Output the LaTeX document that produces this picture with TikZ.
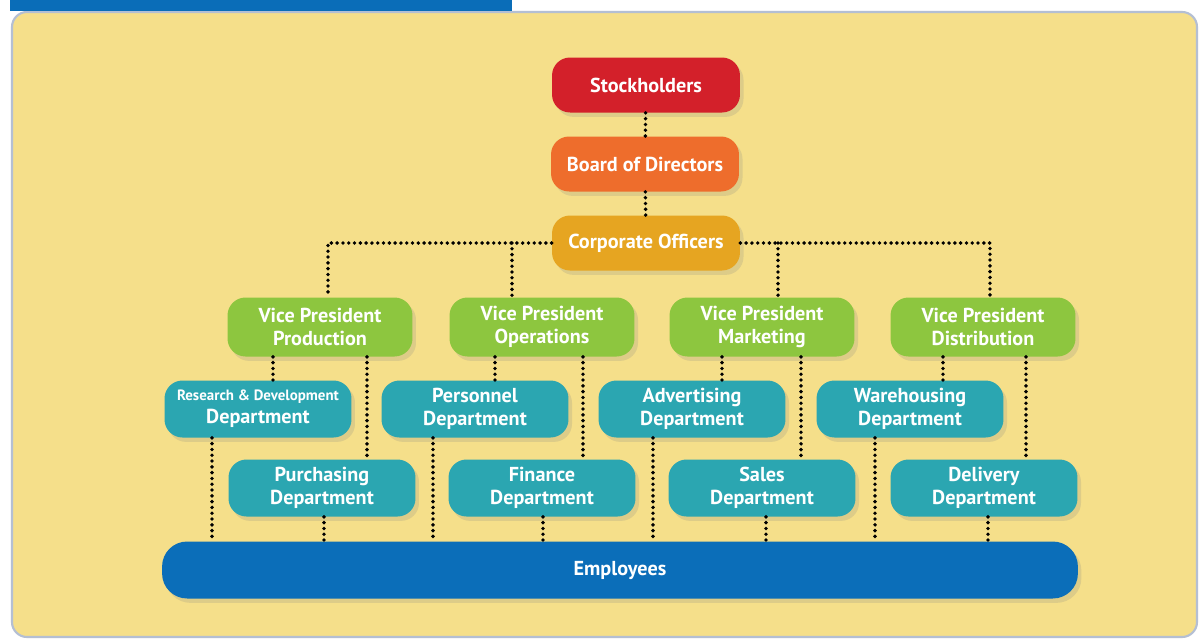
\documentclass[tikz,border=0pt]{standalone}
\usepackage{fontspec}
\setmainfont{PT Sans}
\usepackage{tikz}
\usetikzlibrary{shadows}
\definecolor{panel}{HTML}{F5DF8A}
\definecolor{frame}{HTML}{B4BFD3}
\definecolor{barblue}{HTML}{0A6DB8}
\definecolor{stockred}{HTML}{D3202A}
\definecolor{boardorange}{HTML}{EE6D2C}
\definecolor{officergold}{HTML}{E6A521}
\definecolor{vpgreen}{HTML}{8DC63F}
\definecolor{deptteal}{HTML}{2BA6B1}
\definecolor{staffblue}{HTML}{0B6EB9}

\begin{document}
\begin{tikzpicture}[x=0.02cm,y=-0.02cm,
  box/.style={rounded corners=0.36cm,text=white,align=center,inner sep=0pt,
    font=\bfseries\fontsize{11.5}{13}\selectfont,
    drop shadow={shadow xshift=2pt,shadow yshift=-2.5pt,opacity=0.2}},
  topbox/.style={box,minimum width=3.76cm,minimum height=1.1cm},
  vp/.style={box,fill=vpgreen,minimum width=3.7cm,minimum height=1.18cm},
  dept/.style={box,fill=deptteal,minimum width=3.74cm,minimum height=1.14cm},
  dotline/.style={line width=2.2pt,line cap=round,dash pattern=on 0pt off 3.3pt}]
  % page and panel
  \fill[white] (0,0) rectangle (1204,640);
  \useasboundingbox (0,0) rectangle (1204,640);
  \draw[frame,line width=1.2pt,fill=panel,rounded corners=0.3cm] (12,12) rectangle (1197,637);
  \fill[barblue] (10,0) rectangle (512,11);
  % top of the chart
  \node[topbox,fill=stockred] (stock) at (646,85) {Stockholders};
  \node[topbox,fill=boardorange] (board) at (645,164) {Board of Directors};
  \node[topbox,fill=officergold] (corp) at (646,243) {Corporate Officers};
  % vice presidents
  \node[vp] (vpprod) at (320,327) {Vice President\\Production};
  \node[vp] (vpops) at (542,327) {Vice President\\Operations};
  \node[vp] (vpmark) at (762,327) {Vice President\\Marketing};
  \node[vp] (vpdist) at (983,327) {Vice President\\Distribution};
  % departments
  \node[dept] (rnd) at (258,409) {{\fontsize{8.5}{10}\selectfont Research \& Development}\\Department};
  \node[dept] (pers) at (475,409) {Personnel\\Department};
  \node[dept] (adv) at (692,409) {Advertising\\Department};
  \node[dept] (ware) at (910,409) {Warehousing\\Department};
  \node[dept] (purch) at (322,488) {Purchasing\\Department};
  \node[dept] (fin) at (542,488) {Finance\\Department};
  \node[dept] (sales) at (762,488) {Sales\\Department};
  \node[dept] (deliv) at (984,488) {Delivery\\Department};
  \node[box,fill=staffblue,minimum width=18.32cm,minimum height=1.14cm,rounded corners=0.5cm] (staff) at (620,570) {Employees};
  % dotted links
  \draw[dotline] (stock) -- (board);
  \draw[dotline] (board) -- (corp);
  \draw[dotline] (corp.west) -| (vpprod.north -| 328,0);
  \draw[dotline] (corp.east) -| (vpdist.north -| 990,0);
  \draw[dotline] (corp.west -| 512,0) -- (vpops.north -| 512,0);
  \draw[dotline] (corp.east -| 778,0) -- (vpmark.north -| 778,0);
  \foreach \vp/\dep/\x in {vpprod/rnd/273,vpprod/purch/367,vpops/pers/495,vpops/fin/583,
      vpmark/adv/722,vpmark/sales/801,vpdist/ware/943,vpdist/deliv/1026}
    \draw[dotline] (\vp.south -| \x,0) -- (\dep.north -| \x,0);
  \foreach \dep/\x in {rnd/212,purch/324,pers/433,fin/543,adv/653,sales/766,ware/875,deliv/988}
    \draw[dotline] (\dep.south -| \x,0) -- (staff.north -| \x,0);
\end{tikzpicture}
\end{document}
